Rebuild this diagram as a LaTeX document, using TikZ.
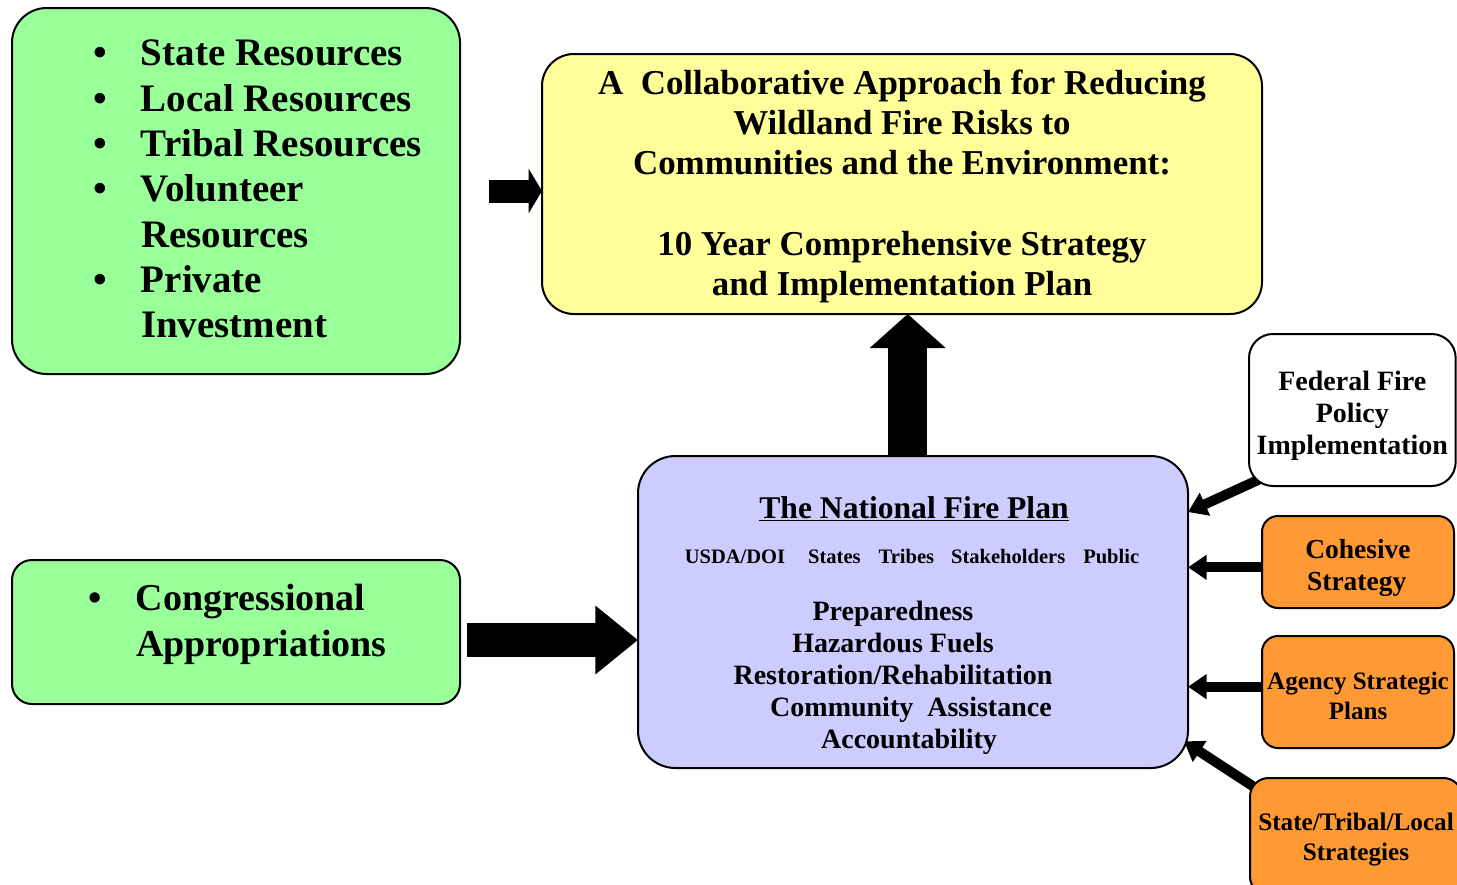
\documentclass[tikz,border=0pt]{standalone}
\usepackage{fontspec}
\setmainfont{Liberation Serif}
\usetikzlibrary{arrows.meta,backgrounds,calc}
\definecolor{resgreen}{HTML}{99FF99}
\definecolor{planyellow}{HTML}{FFFF99}
\definecolor{nfpblue}{HTML}{CCCCFF}
\definecolor{stratorange}{HTML}{FF9933}
\newcommand\resbullet{\makebox[36pt][l]{\textbullet}}
\newcommand\loft[1]{\rule{0pt}{#1}}

\begin{document}
\begin{tikzpicture}[
    x=0.75pt, y=-0.75pt,
    every node/.style={inner sep=0pt, outer sep=0pt, font=\bfseries},
    boks/.style={draw=black, line width=1.5pt, rounded corners=#1, anchor=north west, align=center},
    boks/.default=12pt,
    blokkpil/.style={draw=black, line width=#1},
    pil/.style={draw=black, line width=7.5pt, -{Triangle[length=14pt,width=18pt]}}
    ]
    \useasboundingbox (0,0) rectangle (1457,885);

% sources
\node[boks=26pt, fill=resgreen, minimum width=336pt, minimum height=274.5pt] (ressurser) at (12,8) {};
\node[anchor=west, align=left, font=\bfseries\fontsize{29.2}{34}\selectfont] (resliste) at (93,189)
    {\resbullet State Resources\\\resbullet Local Resources\\\resbullet Tribal Resources\\\resbullet Volunteer\\\hspace*{36pt}Resources\\\resbullet Private\\\hspace*{36pt}Investment};

\node[boks=15pt, fill=resgreen, minimum width=336pt, minimum height=108pt] (bevilgning) at (12,560) {};
\node[anchor=west, align=left, font=\bfseries\fontsize{28.5}{34.5}\selectfont] (bevliste) at (88,624)
    {\resbullet Congressional\\\hspace*{36pt}Appropriations};

% strategy
\node[boks=24pt, fill=planyellow, minimum width=540pt, minimum height=195pt, font=\bfseries\fontsize{26.2}{30}\selectfont] (plan) at (542,54)
    {\loft{22.5pt}A\ \ Collaborative Approach for Reducing\\Wildland Fire Risks to\\Communities and the Environment:\\[31pt]10 Year Comprehensive Strategy\\and Implementation Plan};

% national fire plan
\node[boks=28pt, fill=nfpblue, minimum width=412.5pt, minimum height=234pt] (nfp) at (638,456) {};
\node[font=\bfseries\fontsize{23.7}{28}\selectfont] (nfptittel) at (914,509) {\underline{The National Fire Plan}};
\node[font=\bfseries\fontsize{15.4}{18}\selectfont] (parter) at (912,556)
    {USDA/DOI\hspace{17.25pt}States\hspace{13.5pt}Tribes\hspace{12.75pt}Stakeholders\hspace{13.5pt}Public};
\node[align=center, font=\bfseries\fontsize{21}{24}\selectfont] (tiltak) at (893,678)
    {Preparedness\\Hazardous Fuels\\Restoration/Rehabilitation\\\hspace*{27pt}Community\ \ Assistance\\\hspace*{24pt}Accountability};

% inputs on the right
\node[boks=18pt, fill=white, minimum width=155pt, minimum height=114pt, font=\bfseries\fontsize{21}{24}\selectfont] (foderal) at (1249,334)
    {\loft{23.5pt}Federal Fire\\Policy\\Implementation};
\node[boks, fill=stratorange, minimum width=144pt, minimum height=69pt, font=\bfseries\fontsize{20.6}{24}\selectfont] (samlet) at (1262,516)
    {\loft{23pt}Cohesive\\Strategy\hspace*{2pt}};
\node[boks, fill=stratorange, minimum width=144pt, minimum height=84pt, font=\bfseries\fontsize{18.8}{22.5}\selectfont] (etat) at (1262,636)
    {\loft{18.5pt}Agency Strategic\\Plans};
\node[boks=14pt, fill=stratorange, minimum width=159pt, minimum height=88pt, font=\bfseries\fontsize{18.9}{22.5}\selectfont] (lokal) at (1250,778)
    {\loft{17.5pt}State/Tribal/Local\\Strategies};

\begin{scope}[on background layer]
\draw[blokkpil=17.25pt, -{Triangle[length=10pt,width=33pt]}] ($(ressurser.east)+(29,0)$) -- (ressurser.east -| plan.west);
\coordinate (opp) at ([xshift=-4pt]nfp.north);
\draw[blokkpil=29pt, -{Triangle[length=25.5pt,width=55.5pt]}] (opp) -- (opp |- plan.south);
\coordinate (bevstart) at ([shift={(5pt,-6pt)}]bevilgning.east);
\draw[blokkpil=25.5pt, -{Triangle[length=32pt,width=49.5pt]}] (bevstart) -- (bevstart -| nfp.west);
\draw[pil] ([shift={(10pt,6pt)}]foderal.south west) -- ([yshift=-42pt]nfp.north east);
\draw[pil] ([yshift=-4pt]samlet.west) -- ([yshift=-4pt]samlet.west -| nfp.east);
\draw[pil] ([yshift=4pt]etat.west) -- ([yshift=4pt]etat.west -| nfp.east);
\draw[pil] ([shift={(5pt,-8pt)}]lokal.north west) -- ([shift={(-3pt,20pt)}]nfp.south east);
\end{scope}
\end{tikzpicture}
\end{document}
